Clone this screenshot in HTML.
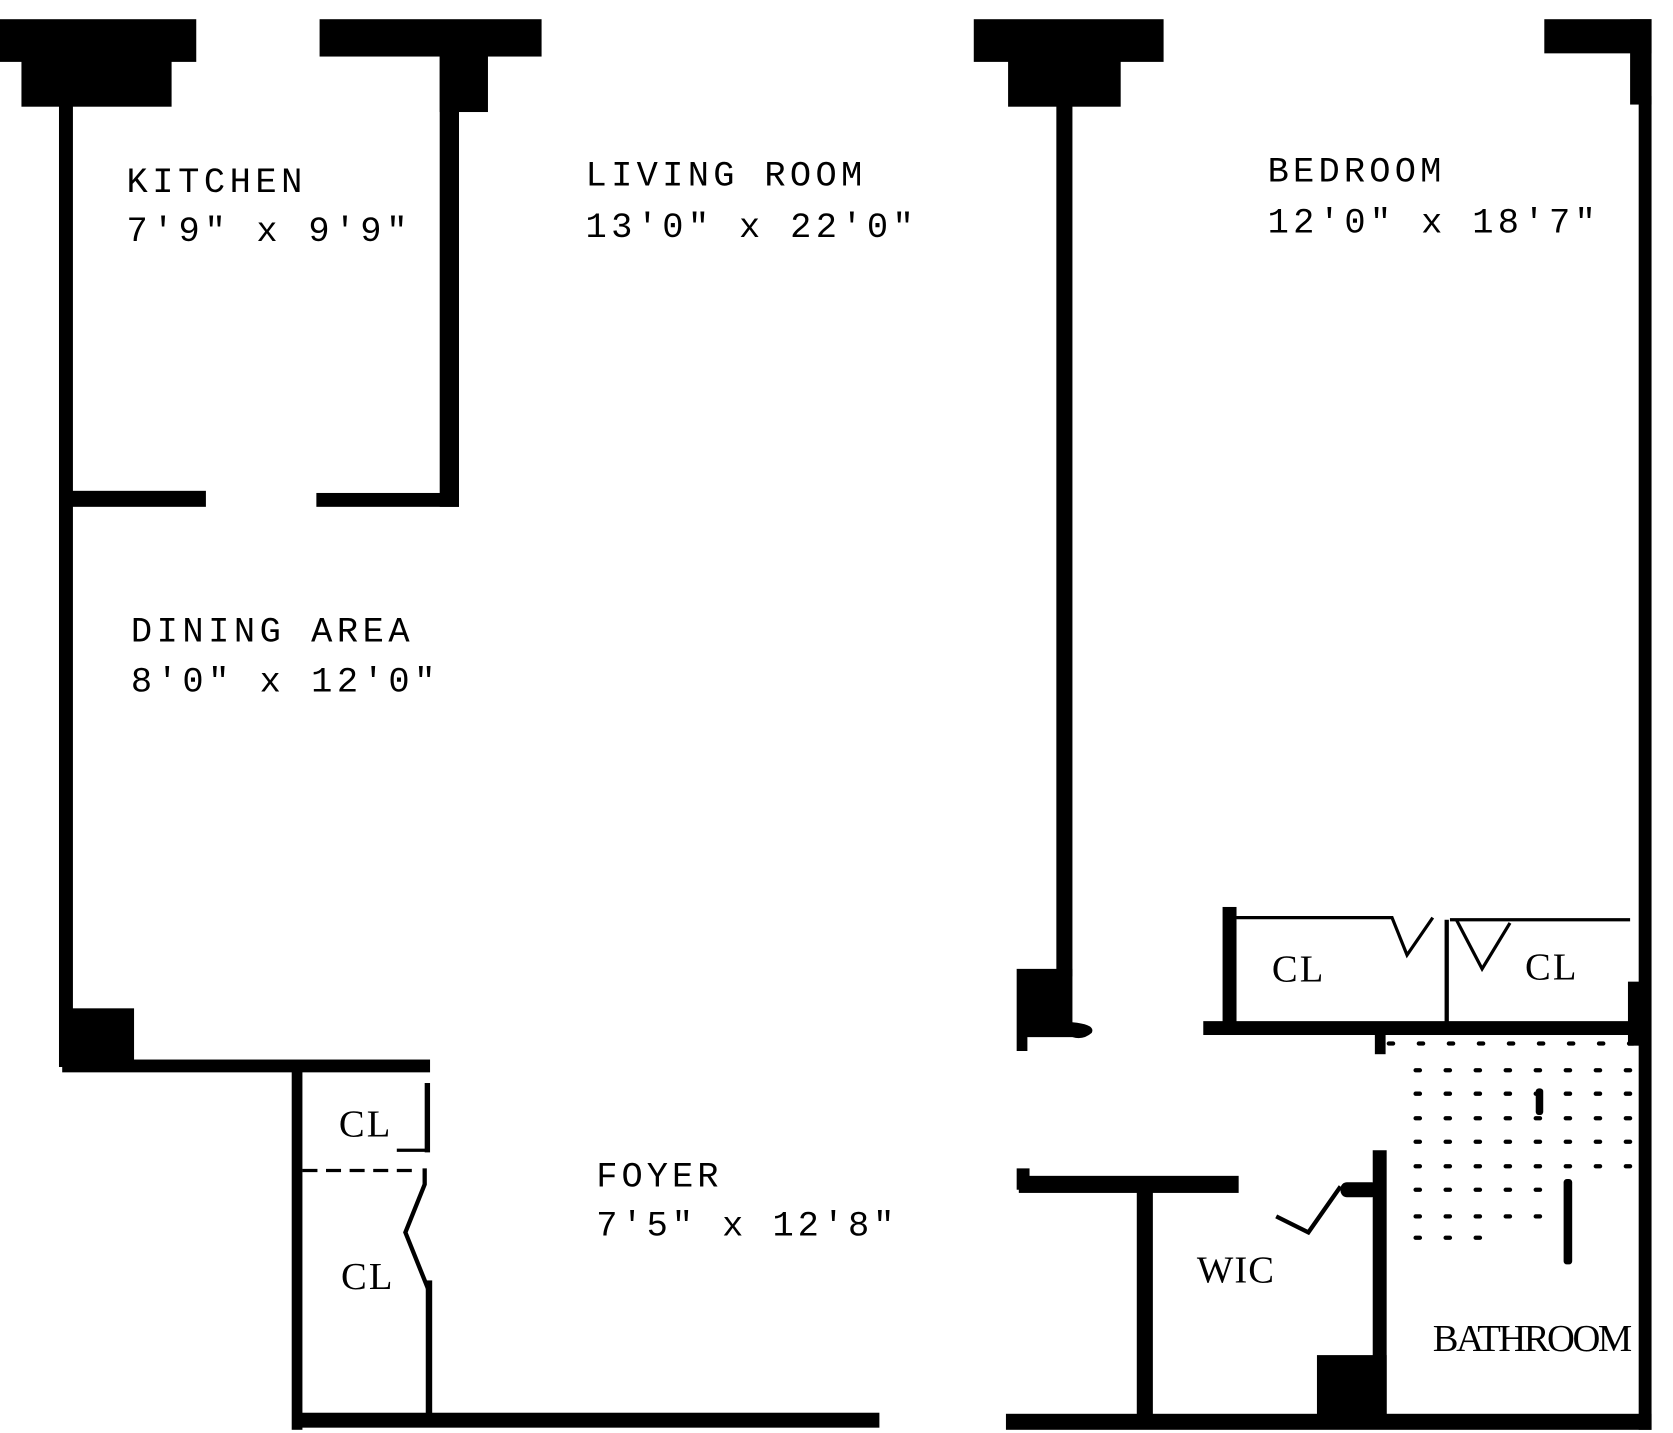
<!DOCTYPE html>
<html><head><meta charset="utf-8"><style>
html,body{margin:0;padding:0;background:#fff;}
svg{display:block;}
text{font-family:"Liberation Mono","DejaVu Sans Mono",monospace;font-size:33px;fill:#000;}
text.s{font-family:"Liberation Serif","DejaVu Serif",serif;font-size:36px;}
</style></head><body>
<svg width="1673" height="1433" viewBox="0 0 1560 1343" preserveAspectRatio="none" xmlns="http://www.w3.org/2000/svg">
<g fill="#000">
<rect x="0" y="18" width="183" height="40"/>
<rect x="20" y="55" width="140" height="45"/>
<rect x="55" y="90" width="13" height="910"/>
<rect x="58" y="945" width="67" height="55"/>
<rect x="58" y="993" width="343" height="12"/>
<rect x="298" y="18" width="207" height="35"/>
<rect x="410" y="50" width="45" height="55"/>
<rect x="410" y="50" width="18" height="425"/>
<rect x="66" y="460" width="126" height="15"/>
<rect x="295" y="462" width="133" height="13"/>
<rect x="272" y="1000" width="10" height="340"/>
<rect x="276" y="1324" width="544" height="14"/>
<rect x="396" y="1015" width="5" height="65"/>
<rect x="397" y="1200" width="6" height="130"/>
<rect x="908" y="18" width="177" height="40"/>
<rect x="940" y="55" width="105" height="45"/>
<rect x="985" y="95" width="15" height="820"/>
<path d="M948 908 H1000 V958 Q1022 960 1018 968 Q1010 975 1000 972 H958 V985 H948 Z"/>
<rect x="1440" y="18" width="100" height="32"/>
<rect x="1520" y="18" width="20" height="80"/>
<rect x="1528" y="90" width="12" height="1250"/>
<rect x="1518" y="920" width="14" height="60"/>
<rect x="1140" y="850" width="13" height="120"/>
<rect x="1122" y="957" width="410" height="13"/>
<rect x="1347" y="862" width="4" height="96"/>
<rect x="1280" y="1078" width="13" height="255"/>
<rect x="1228" y="1270" width="65" height="62"/>
<rect x="1282" y="968" width="10" height="20"/>
<rect x="950" y="1102" width="205" height="16"/>
<rect x="948" y="1095" width="12" height="20"/>
<rect x="1060" y="1110" width="15" height="225"/>
<rect x="1250" y="1108" width="35" height="14" rx="6"/>
<rect x="938" y="1325" width="602" height="15"/>
<rect x="1458" y="1105" width="8" height="80" rx="3"/>
<rect x="1432" y="1020" width="7" height="25" rx="3"/>
</g>
<g fill="none" stroke="#000">
<path d="M282 1097 H385" stroke-width="3" stroke-dasharray="14 8"/>
<path d="M396 1095 V1110 L378 1155 L400 1210" stroke-width="4"/>
<path d="M370 1078 H400" stroke-width="3"/>
<path d="M1153 860 H1298 L1312 895 L1336 860" stroke-width="3"/>
<path d="M1352 862 H1520" stroke-width="3"/>
<path d="M1358 862 L1382 908 L1408 865" stroke-width="3"/>
<path d="M1190 1140 L1220 1155 L1250 1112" stroke-width="4"/>
</g>
<g stroke="#000" stroke-width="4" stroke-linecap="round" stroke-dasharray="4 24" fill="none">
<path d="M1295 978 H1525"/>
<path d="M1320 1003 H1520"/>
<path d="M1320 1025 H1520"/>
<path d="M1320 1048 H1520"/>
<path d="M1320 1070 H1520"/>
<path d="M1320 1093 H1520"/>
<path d="M1320 1115 H1440"/>
<path d="M1320 1140 H1440"/>
<path d="M1320 1160 H1380"/>
</g>
<text x="118" y="180" textLength="164">KITCHEN</text>
<text x="118" y="226" textLength="262">7'9" x 9'9"</text>
<text x="546" y="174" textLength="258">LIVING ROOM</text>
<text x="546" y="222" textLength="306">13'0" x 22'0"</text>
<text x="1182" y="170" textLength="162">BEDROOM</text>
<text x="1182" y="218" textLength="306">12'0" x 18'7"</text>
<text x="122" y="601" textLength="260">DINING AREA</text>
<text x="122" y="648" textLength="284">8'0" x 12'0"</text>
<text x="556" y="1112" textLength="114">FOYER</text>
<text x="556" y="1158" textLength="278">7'5" x 12'8"</text>
<text class="s" x="316" y="1065" textLength="48">CL</text>
<text class="s" x="318" y="1208" textLength="48">CL</text>
<text class="s" x="1186" y="920" textLength="48">CL</text>
<text class="s" x="1422" y="918" textLength="48">CL</text>
<text class="s" x="1116" y="1202" textLength="72">WIC</text>
<text class="s" x="1336" y="1266" textLength="186">BATHROOM</text>
</svg>
</body></html>
